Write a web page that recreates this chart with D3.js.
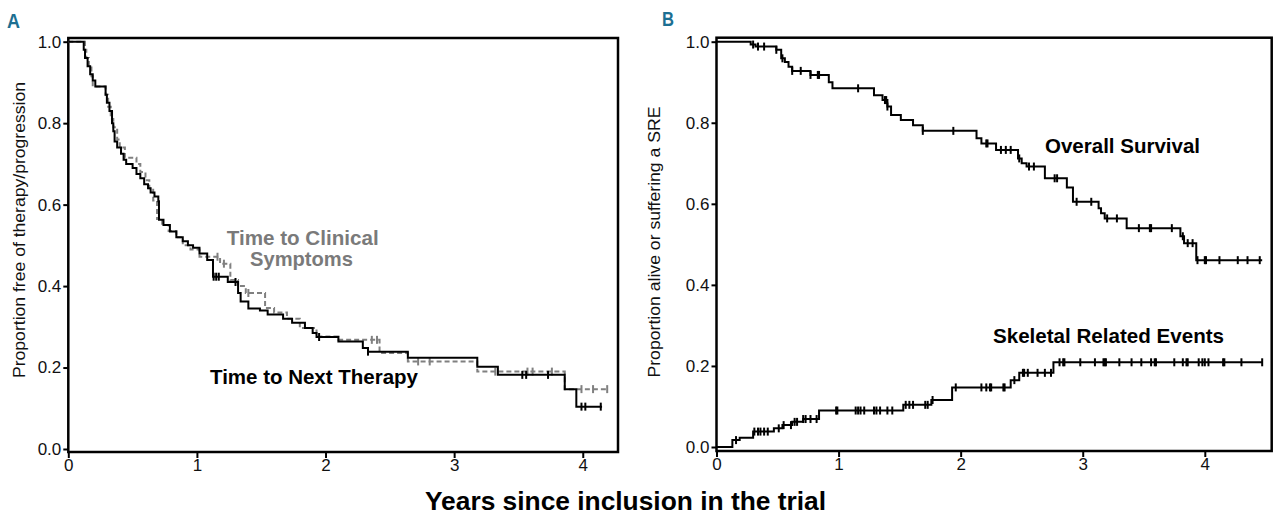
<!DOCTYPE html>
<html>
<head>
<meta charset="utf-8">
<script src="https://cdn.jsdelivr.net/npm/d3@7"></script>
<style>
  body { margin: 0; background: #fff; }
  text { font-family: "Liberation Sans", Arial, sans-serif; }
</style>
</head>
<body>
<svg id="chart" width="1280" height="519"></svg>
<script>
// step points [years, proportion]
const nextTherapySteps = [[0,1],[0.12,0.98],[0.13,0.96],[0.15,0.94],[0.17,0.92],[0.19,0.905],[0.21,0.89],[0.29,0.87],[0.30,0.85],[0.32,0.83],[0.34,0.80],[0.35,0.78],[0.36,0.755],[0.38,0.74],[0.41,0.725],[0.43,0.71],[0.45,0.70],[0.50,0.69],[0.53,0.675],[0.56,0.665],[0.59,0.65],[0.62,0.64],[0.64,0.63],[0.67,0.62],[0.70,0.608],[0.705,0.563],[0.74,0.55],[0.79,0.534],[0.84,0.52],[0.89,0.51],[0.93,0.50],[0.97,0.494],[1.02,0.48],[1.08,0.464],[1.125,0.423],[1.24,0.41],[1.32,0.383],[1.34,0.362],[1.40,0.345],[1.49,0.34],[1.55,0.33],[1.67,0.32],[1.74,0.31],[1.84,0.297],[1.90,0.285],[1.93,0.275],[2.10,0.264],[2.29,0.248],[2.33,0.239],[2.64,0.224],[3.18,0.202],[3.34,0.182],[3.86,0.147],[3.95,0.104]];
const nextTherapyEnd = 4.15;
const nextTherapyCensor = [1.13,1.15,1.17,1.30,1.95,2.33,3.53,3.56,3.73,3.99,4.02,4.14];

const symptomSteps = [[0,1],[0.13,0.98],[0.14,0.96],[0.16,0.94],[0.18,0.915],[0.19,0.89],[0.29,0.87],[0.31,0.84],[0.33,0.81],[0.35,0.79],[0.38,0.76],[0.40,0.74],[0.44,0.715],[0.53,0.70],[0.56,0.68],[0.60,0.66],[0.63,0.64],[0.66,0.61],[0.69,0.565],[0.73,0.55],[0.78,0.535],[0.84,0.52],[0.89,0.50],[0.95,0.49],[1.02,0.472],[1.18,0.455],[1.26,0.415],[1.32,0.40],[1.38,0.383],[1.53,0.346],[1.60,0.335],[1.70,0.32],[1.80,0.297],[1.93,0.276],[2.10,0.268],[2.42,0.236],[2.64,0.215],[3.18,0.19],[3.86,0.147]];
const symptomEnd = 4.19;
const symptomCensor = [1.16,1.21,1.40,2.36,2.40,2.72,2.81,3.32,3.57,3.61,3.76,3.99,4.08,4.19];

const survivalSteps = [[0,1],[0.28,0.993],[0.32,0.988],[0.49,0.98],[0.53,0.959],[0.56,0.95],[0.59,0.938],[0.62,0.928],[0.77,0.918],[0.92,0.90],[0.95,0.885],[1.29,0.868],[1.36,0.856],[1.40,0.84],[1.43,0.819],[1.51,0.807],[1.61,0.794],[1.69,0.78],[2.13,0.762],[2.17,0.749],[2.29,0.733],[2.47,0.712],[2.50,0.70],[2.54,0.692],[2.69,0.663],[2.87,0.64],[2.92,0.605],[3.13,0.589],[3.15,0.577],[3.18,0.564],[3.36,0.54],[3.80,0.52],[3.83,0.503],[3.93,0.461]];
const survivalEnd = 4.47;
const survivalCensor = [0.30,0.34,0.39,0.49,0.54,0.62,0.69,0.77,0.83,0.84,1.16,1.38,1.39,1.40,1.69,1.94,2.21,2.22,2.33,2.37,2.41,2.48,2.56,2.60,2.77,2.79,2.95,3.07,3.20,3.28,3.46,3.55,3.56,3.73,3.82,3.86,3.90,3.94,4.00,4.01,4.12,4.27,4.35,4.45];

const sreSteps = [[0,0],[0.13,0.017],[0.19,0.023],[0.30,0.038],[0.47,0.046],[0.54,0.054],[0.62,0.062],[0.71,0.069],[0.84,0.09],[1.53,0.104],[1.76,0.116],[1.93,0.147],[2.41,0.165],[2.48,0.183],[2.76,0.209]];
const sreEnd = 4.47;
const sreCensor = [0.16,0.31,0.34,0.36,0.39,0.42,0.51,0.55,0.61,0.64,0.66,0.71,0.73,0.77,0.82,0.98,0.99,1.14,1.16,1.18,1.21,1.29,1.31,1.34,1.40,1.44,1.55,1.58,1.61,1.71,1.73,1.77,1.96,2.17,2.21,2.24,2.25,2.35,2.36,2.44,2.51,2.52,2.55,2.63,2.69,2.74,2.81,2.84,2.85,2.98,3.10,3.17,3.18,3.19,3.30,3.40,3.48,3.56,3.59,3.60,3.75,3.82,3.85,3.86,3.95,3.98,4.00,4.03,4.15,4.16,4.30,4.47];

const yTicks = [0, 0.2, 0.4, 0.6, 0.8, 1.0];
const xTicks = [0, 1, 2, 3, 4];

const svg = d3.select("#chart");

function valueAt(steps, t) {
  let v = steps[0][1];
  for (const s of steps) { if (s[0] <= t) v = s[1]; }
  return v;
}

function panel(p) {
  const x = d3.scaleLinear().domain([0, p.xMax]).range([p.left, p.right]);
  const y = d3.scaleLinear().domain([0, 1]).range([p.y0, p.y1]);
  const g = svg.append("g");

  g.append("rect")
    .attr("x", p.left).attr("y", p.top)
    .attr("width", p.right - p.left).attr("height", p.bottom - p.top)
    .attr("fill", "none").attr("stroke", "#000").attr("stroke-width", 2.5);

  const yAxis = g.append("g")
    .attr("transform", "translate(" + p.left + ",0)")
    .call(d3.axisLeft(y).tickValues(yTicks).tickFormat(d3.format(".1f")).tickSize(5).tickPadding(2));
  const xAxis = g.append("g")
    .attr("transform", "translate(0," + p.bottom + ")")
    .call(d3.axisBottom(x).tickValues(xTicks).tickFormat(d3.format("d")).tickSize(6).tickPadding(1));
  [yAxis, xAxis].forEach(a => {
    a.select(".domain").remove();
    a.selectAll("line").attr("stroke-width", 2);
    a.selectAll("text").attr("font-size", 17).attr("fill", "#111")
      .style("font-family", "'Liberation Sans', Arial, sans-serif");
  });

  const line = d3.line().x(d => x(d[0])).y(d => y(d[1])).curve(d3.curveStepAfter);

  p.series.forEach(s => {
    const pts = s.steps.concat([[s.end, s.steps[s.steps.length - 1][1]]]);
    g.append("path")
      .attr("d", line(pts))
      .attr("fill", "none")
      .attr("stroke", s.color)
      .attr("stroke-width", 2)
      .attr("stroke-dasharray", s.dash || null);
    g.selectAll(null)
      .data(s.censor)
      .enter()
      .append("line")
      .attr("x1", d => x(d)).attr("x2", d => x(d))
      .attr("y1", d => y(valueAt(s.steps, d)) - 4)
      .attr("y2", d => y(valueAt(s.steps, d)) + 4)
      .attr("stroke", s.color)
      .attr("stroke-width", 2);
  });

  g.append("text")
    .attr("transform", "translate(" + p.titleX + "," + p.titleY + ") rotate(-90)")
    .attr("text-anchor", "middle")
    .attr("font-size", 17)
    .attr("textLength", p.titleLen).attr("lengthAdjust", "spacingAndGlyphs")
    .attr("fill", "#111")
    .text(p.title);

  g.append("text")
    .attr("x", p.tagX).attr("y", p.tagY)
    .attr("font-size", 20).attr("font-weight", "bold")
    .attr("textLength", p.tagLen).attr("lengthAdjust", "spacingAndGlyphs")
    .attr("fill", "#1c6f92")
    .text(p.tag);

  p.notes.forEach(n => {
    g.append("text")
      .attr("x", n.x).attr("y", n.y)
      .attr("font-size", 20.5).attr("font-weight", "bold")
      .attr("textLength", n.len).attr("lengthAdjust", "spacingAndGlyphs")
      .attr("fill", n.color)
      .text(n.text);
  });
}

panel({
  left: 68.3, right: 618, top: 38, bottom: 452, y0: 449, y1: 41.7, xMax: 4.274,
  title: "Proportion free of therapy/progression", titleX: 25, titleY: 230, titleLen: 296,
  tag: "A", tagX: 7, tagY: 28, tagLen: 13,
  series: [
    { steps: symptomSteps, end: symptomEnd, censor: symptomCensor, color: "#808080", dash: "5,3" },
    { steps: nextTherapySteps, end: nextTherapyEnd, censor: nextTherapyCensor, color: "#000" }
  ],
  notes: [
    { text: "Time to Clinical", x: 226.7, y: 245, len: 152, color: "#7a7a7a" },
    { text: "Symptoms", x: 250, y: 266, len: 103, color: "#7a7a7a" },
    { text: "Time to Next Therapy", x: 210, y: 384, len: 208, color: "#000" }
  ]
});

panel({
  left: 716.5, right: 1271.7, top: 37.7, bottom: 451, y0: 447, y1: 41.7, xMax: 4.548,
  title: "Proportion alive or suffering a SRE", titleX: 660, titleY: 242, titleLen: 271,
  tag: "B", tagX: 662, tagY: 26, tagLen: 12,
  series: [
    { steps: survivalSteps, end: survivalEnd, censor: survivalCensor, color: "#000" },
    { steps: sreSteps, end: sreEnd, censor: sreCensor, color: "#000" }
  ],
  notes: [
    { text: "Overall Survival", x: 1045, y: 153, len: 155, color: "#000" },
    { text: "Skeletal Related Events", x: 993, y: 343, len: 231, color: "#000" }
  ]
});

svg.append("text")
  .attr("x", 425).attr("y", 510)
  .attr("font-size", 25).attr("font-weight", "bold")
  .attr("textLength", 401).attr("lengthAdjust", "spacingAndGlyphs")
  .attr("fill", "#000")
  .text("Years since inclusion in the trial");
</script>
</body>
</html>
